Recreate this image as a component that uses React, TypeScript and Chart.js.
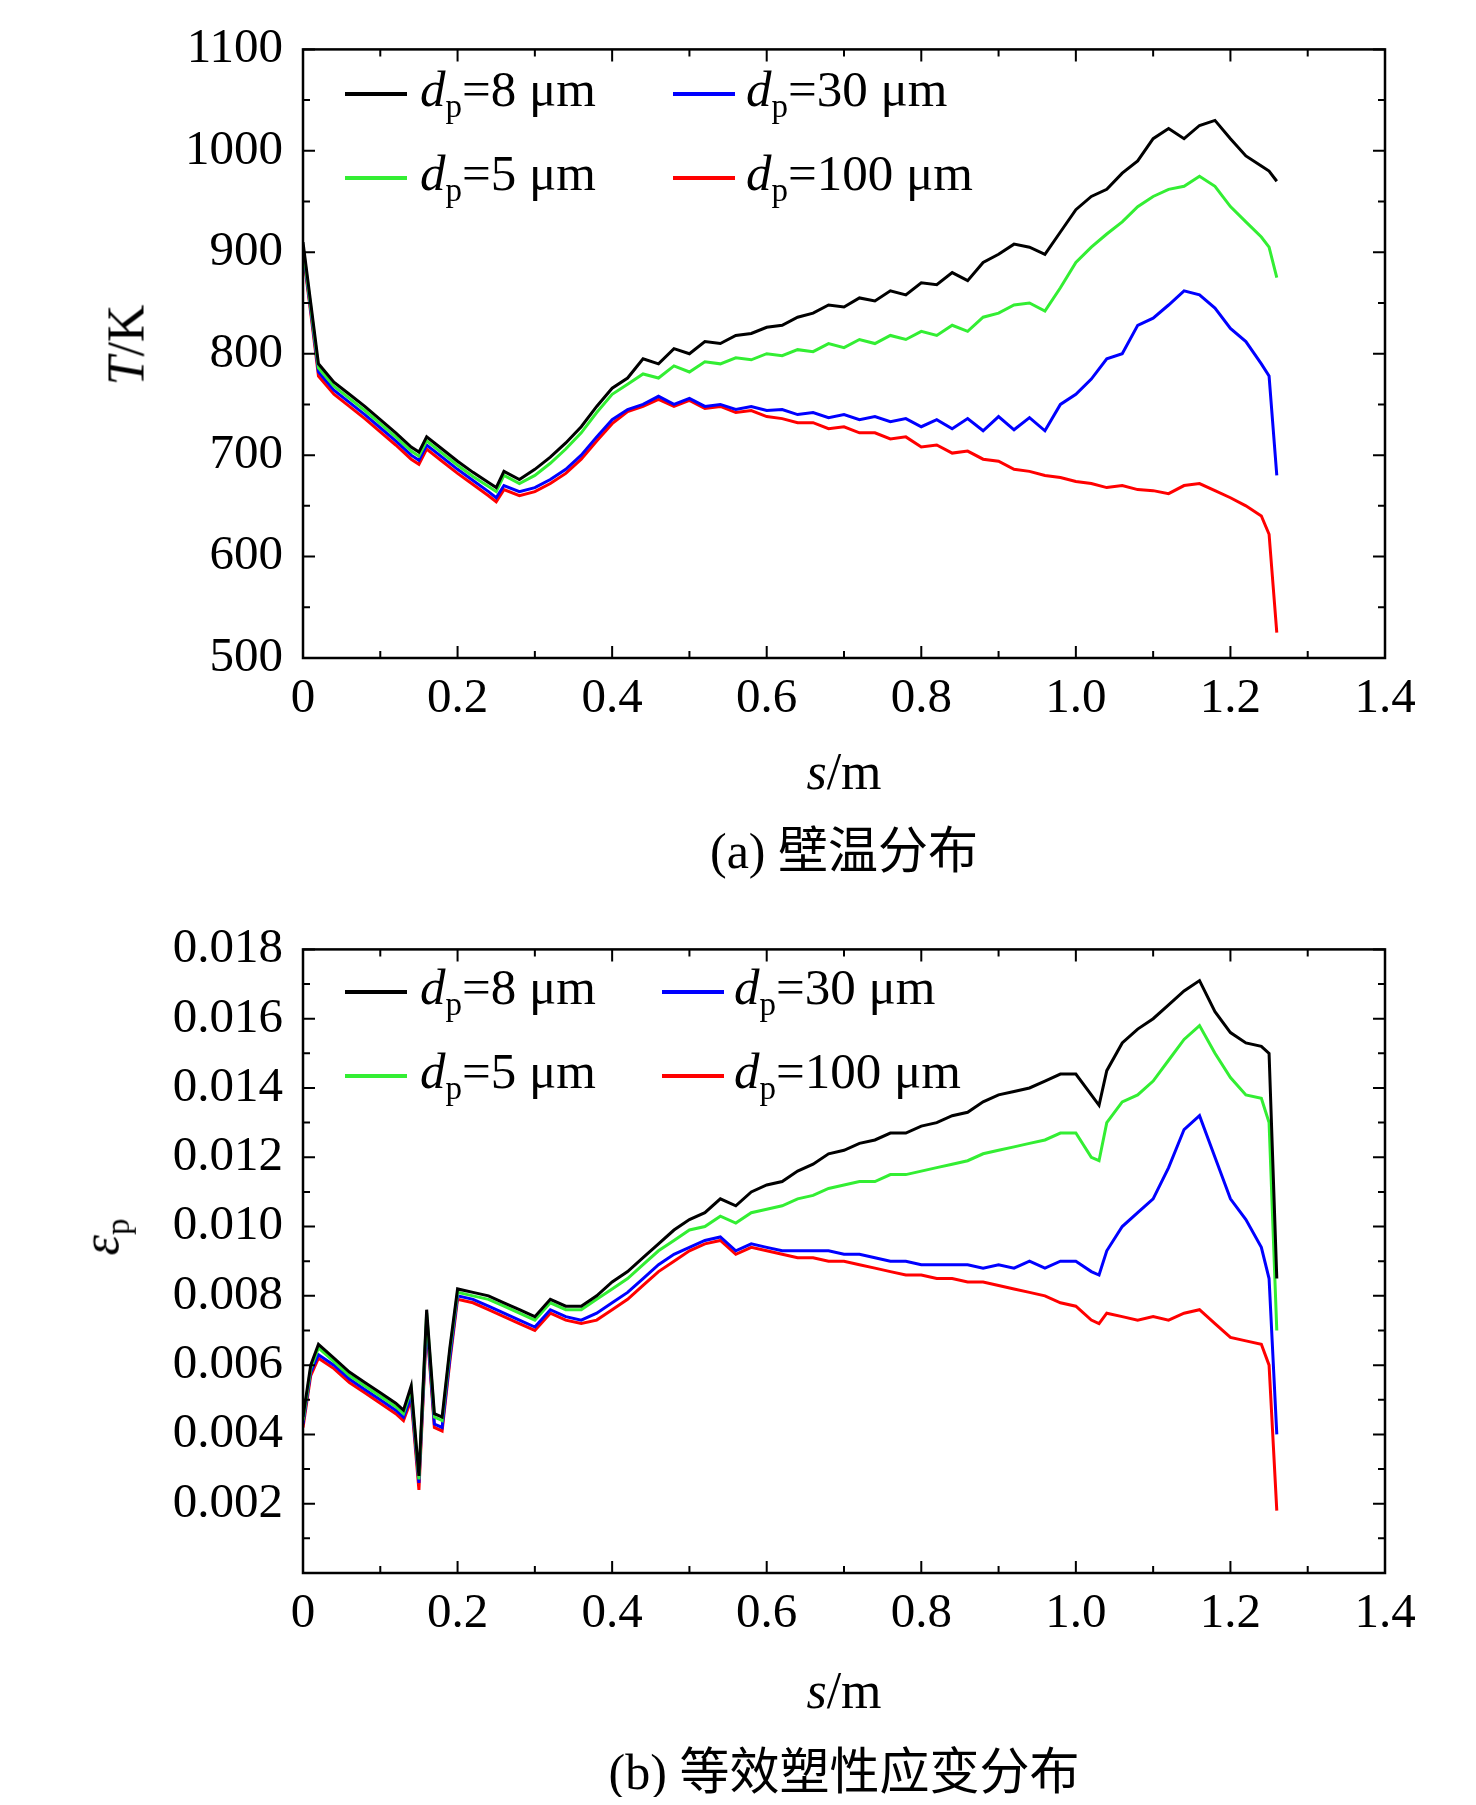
import React, { useEffect, useRef, useState } from "react";
import { Chart, registerables } from "chart.js";
Chart.register(...registerables);

const TX = [0,0.01,0.02,0.04,0.06,0.08,0.10,0.12,0.14,0.15,0.16,0.18,0.20,0.22,0.24,0.25,0.26,0.28,0.30,0.32,0.34,0.36,0.38,0.40,0.42,0.44,0.46,0.48,0.50,0.52,0.54,0.56,0.58,0.60,0.62,0.64,0.66,0.68,0.70,0.72,0.74,0.76,0.78,0.80,0.82,0.84,0.86,0.88,0.90,0.92,0.94,0.96,0.98,1.00,1.02,1.04,1.06,1.08,1.10,1.12,1.14,1.16,1.18,1.20,1.22,1.24,1.25,1.26];
const T_8 = [910,850,790,772,760,748,735,722,708,703,718,706,694,683,673,668,684,676,686,698,712,728,748,766,776,795,790,805,800,812,810,818,820,826,828,836,840,848,846,855,852,862,858,870,868,880,872,890,898,908,905,898,920,942,955,962,978,990,1012,1022,1012,1025,1030,1012,995,985,980,970];
const T_5 = [906,846,786,768,756,744,731,718,704,699,714,702,690,679,669,664,680,672,680,692,706,722,742,760,770,780,776,788,782,792,790,796,794,800,798,804,802,810,806,814,810,818,814,822,818,828,822,836,840,848,850,842,865,890,905,918,930,945,955,962,965,975,965,945,930,915,905,875];
const T_30 = [903,843,782,764,752,740,727,714,700,695,710,698,686,675,664,658,670,664,668,676,686,700,718,735,745,750,758,750,756,748,750,745,748,744,745,740,742,737,740,735,738,733,736,728,735,726,736,724,738,725,737,724,750,760,775,795,800,828,835,848,862,858,845,825,812,790,778,680];
const T_100 = [900,840,778,760,748,736,723,710,696,691,706,694,682,671,660,654,666,660,664,672,682,696,714,731,743,748,755,748,754,746,748,742,744,738,736,732,732,726,728,722,722,716,718,708,710,702,704,696,694,686,684,680,678,674,672,668,670,666,665,662,670,672,665,658,650,640,622,525];

const EX = [0,0.01,0.02,0.04,0.06,0.08,0.10,0.12,0.13,0.14,0.15,0.16,0.17,0.18,0.19,0.20,0.22,0.24,0.26,0.28,0.30,0.32,0.34,0.36,0.38,0.40,0.42,0.44,0.46,0.48,0.50,0.52,0.54,0.56,0.58,0.60,0.62,0.64,0.66,0.68,0.70,0.72,0.74,0.76,0.78,0.80,0.82,0.84,0.86,0.88,0.90,0.92,0.94,0.96,0.98,1.00,1.02,1.03,1.04,1.06,1.08,1.10,1.12,1.14,1.16,1.18,1.20,1.22,1.24,1.25,1.26];
const E_8 = [.0045,.0060,.0066,.0062,.0058,.0055,.0052,.0049,.0047,.0054,.0028,.0076,.0046,.0045,.0065,.0082,.0081,.0080,.0078,.0076,.0074,.0079,.0077,.0077,.0080,.0084,.0087,.0091,.0095,.0099,.0102,.0104,.0108,.0106,.0110,.0112,.0113,.0116,.0118,.0121,.0122,.0124,.0125,.0127,.0127,.0129,.0130,.0132,.0133,.0136,.0138,.0139,.0140,.0142,.0144,.0144,.0138,.0135,.0145,.0153,.0157,.0160,.0164,.0168,.0171,.0162,.0156,.0153,.0152,.0150,.0085];
const E_5 = [.0044,.0059,.0065,.0061,.0057,.0054,.0051,.0048,.0046,.0053,.0027,.0075,.0045,.0044,.0064,.0081,.0080,.0079,.0077,.0075,.0073,.0078,.0076,.0076,.0079,.0082,.0085,.0089,.0093,.0096,.0099,.0100,.0103,.0101,.0104,.0105,.0106,.0108,.0109,.0111,.0112,.0113,.0113,.0115,.0115,.0116,.0117,.0118,.0119,.0121,.0122,.0123,.0124,.0125,.0127,.0127,.0120,.0119,.0130,.0136,.0138,.0142,.0148,.0154,.0158,.0150,.0143,.0138,.0137,.0130,.0070];
const E_30 = [.0043,.0058,.0063,.0060,.0056,.0053,.0050,.0047,.0045,.0051,.0026,.0073,.0043,.0042,.0062,.0080,.0079,.0077,.0075,.0073,.0071,.0076,.0074,.0073,.0075,.0078,.0081,.0085,.0089,.0092,.0094,.0096,.0097,.0093,.0095,.0094,.0093,.0093,.0093,.0093,.0092,.0092,.0091,.0090,.0090,.0089,.0089,.0089,.0089,.0088,.0089,.0088,.0090,.0088,.0090,.0090,.0087,.0086,.0093,.0100,.0104,.0108,.0117,.0128,.0132,.0120,.0108,.0102,.0094,.0085,.0040];
const E_100 = [.0042,.0057,.0062,.0059,.0055,.0052,.0049,.0046,.0044,.0050,.0024,.0072,.0042,.0041,.0061,.0079,.0078,.0076,.0074,.0072,.0070,.0075,.0073,.0072,.0073,.0076,.0079,.0083,.0087,.0090,.0093,.0095,.0096,.0092,.0094,.0093,.0092,.0091,.0091,.0090,.0090,.0089,.0088,.0087,.0086,.0086,.0085,.0085,.0084,.0084,.0083,.0082,.0081,.0080,.0078,.0077,.0073,.0072,.0075,.0074,.0073,.0074,.0073,.0075,.0076,.0072,.0068,.0067,.0066,.0060,.0018];

const COLORS = ["#000000", "#33ee33", "#0000ff", "#ff0000"];
const LEG_LABELS = ["8 μm", "5 μm", "30 μm", "100 μm"];
const FONT = "'Liberation Serif', serif";

const tickPlugin = (minorX: number, minorY: number) => ({
  id: "inTicks",
  afterDraw(chart: any) {
    const { ctx, chartArea: a, scales } = chart;
    const xs = scales.x, ys = scales.y;
    ctx.save();
    ctx.strokeStyle = "#000";
    ctx.lineWidth = 2;
    const eps = 1e-9;
    for (let v = xs.min; v <= xs.max + eps; v += minorX) {
      const px = xs.getPixelForValue(v);
      const k = Math.round(v / minorX) % 2 === 0 ? 12 : 7;
      ctx.beginPath();
      ctx.moveTo(px, a.bottom); ctx.lineTo(px, a.bottom - k);
      ctx.moveTo(px, a.top); ctx.lineTo(px, a.top + k);
      ctx.stroke();
    }
    for (let v = ys.min; v <= ys.max + eps * ys.max; v += minorY) {
      const py = ys.getPixelForValue(v);
      const k = Math.round((v - ys.min) / minorY) % 2 === 0 ? 12 : 7;
      ctx.beginPath();
      ctx.moveTo(a.left, py); ctx.lineTo(a.left + k, py);
      ctx.moveTo(a.right, py); ctx.lineTo(a.right - k, py);
      ctx.stroke();
    }
    ctx.lineWidth = 2.5;
    ctx.strokeRect(a.left, a.top, a.right - a.left, a.bottom - a.top);
    ctx.restore();
  },
});

function LineChart(props: { xs: number[]; series: number[][]; ymin: number; ymax: number; ystep: number; minorY: number; padTop: number; height: number; fmt: (v: number) => string; }) {
  const ref = useRef<HTMLCanvasElement>(null);
  const [ready, setReady] = useState(false);
  useEffect(() => {
    let done = false;
    const f = (document as any).fonts;
    const p = f ? Promise.all([f.load("48px 'Liberation Serif'"), f.load("italic 48px 'Liberation Serif'")]) : Promise.resolve();
    p.catch(() => {}).then(() => { if (!done) setReady(true); });
    return () => { done = true; };
  }, []);
  useEffect(() => {
    if (!ready) return;
    const chart = new Chart(ref.current!, {
      type: "line",
      data: {
        datasets: [0, 1, 2, 3].map((i) => ({
          data: props.xs.map((x, j) => ({ x, y: props.series[i][j] })),
          borderColor: COLORS[i],
          borderWidth: 3,
          pointRadius: 0,
          tension: 0,
        })),
      },
      options: {
        animation: false,
        responsive: false,
        layout: { padding: { top: props.padTop, right: 91, left: 0, bottom: 0 } },
        plugins: { legend: { display: false }, tooltip: { enabled: false } },
        scales: {
          x: {
            type: "linear", min: 0, max: 1.4,
            grid: { display: false, drawTicks: false },
            border: { display: false },
            afterFit: (s: any) => { s.height = 62; },
            afterBuildTicks: (s: any) => { s.ticks = [0, 0.2, 0.4, 0.6, 0.8, 1.0, 1.2, 1.4].map((v) => ({ value: v })); },
            ticks: { padding: 12, color: "#000", font: { family: FONT, size: 49 }, maxRotation: 0, callback: (v: any) => (v === 0 ? "0" : Number(v).toFixed(1)) },
          },
          y: {
            min: props.ymin, max: props.ymax,
            grid: { display: false, drawTicks: false },
            border: { display: false },
            afterFit: (s: any) => { s.width = 303; },
            ticks: { stepSize: props.ystep, padding: 20, color: "#000", font: { family: FONT, size: 49 }, callback: (v: any) => props.fmt(Number(v)) },
          },
        },
      },
      plugins: [tickPlugin(0.1, props.minorY)],
    });
    return () => chart.destroy();
  }, [ready]);
  return <canvas ref={ref} width={1476} height={props.height} style={{ display: "block" }} />;
}

function Legend(props: { rows: number[]; col2Line: number; col2Text: number }) {
  const items = [[0, 345, 420, 0], [2, props.col2Line, props.col2Text, 0], [1, 345, 420, 1], [3, props.col2Line, props.col2Text, 1]];
  return (
    <>
      {items.map(([i, lx, tx, r]) => (
        <React.Fragment key={i}>
          <div style={{ position: "absolute", left: lx, top: props.rows[r] - 2, width: 62, height: 4, background: COLORS[i] }} />
          <div style={{ position: "absolute", left: tx, top: props.rows[r] - 33, fontFamily: FONT, fontSize: 51, lineHeight: "56px", whiteSpace: "nowrap", color: "#000" }}>
            <i>d</i><sub style={{ fontSize: 33 }}>p</sub>={LEG_LABELS[i]}
          </div>
        </React.Fragment>
      ))}
    </>
  );
}

const textStyle: React.CSSProperties = { position: "absolute", fontFamily: FONT, fontSize: 52, color: "#000", whiteSpace: "nowrap", transform: "translate(-50%,-50%)" };
const capStyle: React.CSSProperties = { ...textStyle, fontFamily: "'Liberation Serif', 'Noto Sans CJK SC', serif", fontSize: 50 };

export default function App() {
  return (
    <div style={{ position: "relative", width: 1476, height: 1805, background: "#fff", margin: -8 }}>
      <div style={{ position: "absolute", left: 0, top: 0 }}>
        <LineChart xs={TX} series={[T_8, T_5, T_30, T_100]} ymin={500} ymax={1100} ystep={100} minorY={50} padTop={29} height={720} fmt={(v) => String(v)} />
      </div>
      <div style={{ position: "absolute", left: 0, top: 900 }}>
        <LineChart xs={EX} series={[E_8, E_5, E_30, E_100]} ymin={0} ymax={0.018} ystep={0.002} minorY={0.001} padTop={46} height={735} fmt={(v) => (Math.abs(v) < 1e-9 ? "" : v.toFixed(3))} />
      </div>
      <Legend rows={[94, 178]} col2Line={673} col2Text={746} />
      <Legend rows={[992, 1076]} col2Line={662} col2Text={734} />
      <div style={{ ...textStyle, left: 126, top: 345, transform: "translate(-50%,-50%) rotate(-90deg)" }}><i>T</i>/K</div>
      <div style={{ ...textStyle, left: 844, top: 771 }}><i>s</i>/m</div>
      <div style={{ ...capStyle, left: 844, top: 846 }}>(a) 壁温分布</div>
      <div style={{ ...textStyle, left: 104, top: 1237, transform: "translate(-50%,-50%) rotate(-90deg)" }}><i>ε</i><sub style={{ fontSize: 33 }}>p</sub></div>
      <div style={{ ...textStyle, left: 844, top: 1690 }}><i>s</i>/m</div>
      <div style={{ ...capStyle, left: 844, top: 1767 }}>(b) 等效塑性应变分布</div>
    </div>
  );
}
